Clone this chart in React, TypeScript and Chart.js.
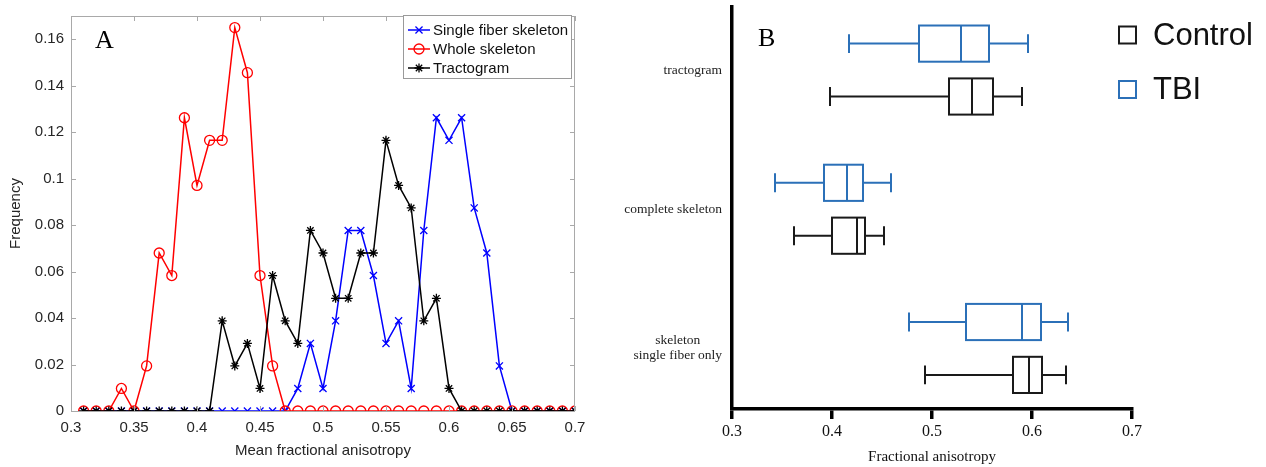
import React, { useEffect, useRef } from 'react';
import { Chart, registerables } from 'chart.js';

Chart.register(...registerables);

// ---------------- Panel A data ----------------
const faBins = [
  0.31, 0.32, 0.33, 0.34, 0.35, 0.36, 0.37, 0.38, 0.39, 0.4,
  0.41, 0.42, 0.43, 0.44, 0.45, 0.46, 0.47, 0.48, 0.49, 0.5,
  0.51, 0.52, 0.53, 0.54, 0.55, 0.56, 0.57, 0.58, 0.59, 0.6,
  0.61, 0.62, 0.63, 0.64, 0.65, 0.66, 0.67, 0.68, 0.69, 0.7,
];
const singleFiberFreq = [
  0, 0, 0, 0, 0, 0, 0, 0, 0, 0,
  0, 0, 0, 0, 0, 0, 0, 0.0097, 0.0291, 0.0097,
  0.0388, 0.0777, 0.0777, 0.0583, 0.0291, 0.0388, 0.0097, 0.0777, 0.1262, 0.1165,
  0.1262, 0.0874, 0.068, 0.0194, 0, 0, 0, 0, 0, 0,
];
const wholeSkeletonFreq = [
  0, 0, 0, 0.0097, 0, 0.0194, 0.068, 0.0583, 0.1262, 0.0971,
  0.1165, 0.1165, 0.165, 0.1456, 0.0583, 0.0194, 0, 0, 0, 0,
  0, 0, 0, 0, 0, 0, 0, 0, 0, 0,
  0, 0, 0, 0, 0, 0, 0, 0, 0, 0,
];
const tractogramFreq = [
  0, 0, 0, 0, 0, 0, 0, 0, 0, 0,
  0, 0.0388, 0.0194, 0.0291, 0.0097, 0.0583, 0.0388, 0.0291, 0.0777, 0.068,
  0.0485, 0.0485, 0.068, 0.068, 0.1165, 0.0971, 0.0874, 0.0388, 0.0485, 0.0097,
  0, 0, 0, 0, 0, 0, 0, 0, 0, 0,
];
const seriesNamesA = ['Single fiber skeleton', 'Whole skeleton', 'Tractogram'];
const xTickValuesA = [0.3, 0.35, 0.4, 0.45, 0.5, 0.55, 0.6, 0.65, 0.7];
const xTickLabelsA = ['0.3', '0.35', '0.4', '0.45', '0.5', '0.55', '0.6', '0.65', '0.7'];
const yTickValuesA = [0, 0.02, 0.04, 0.06, 0.08, 0.1, 0.12, 0.14, 0.16];
const yTickLabelsA = ['0', '0.02', '0.04', '0.06', '0.08', '0.1', '0.12', '0.14', '0.16'];

// ---------------- Panel B data ----------------
const boxCategories = [['tractogram'], ['complete skeleton'], ['skeleton', 'single fiber only']];
const controlMin = [0.398, 0.362, 0.493];
const controlQ1 = [0.517, 0.4, 0.581];
const controlMedian = [0.54, 0.425, 0.597];
const controlQ3 = [0.561, 0.433, 0.61];
const controlMax = [0.59, 0.452, 0.634];
const tbiMin = [0.417, 0.343, 0.477];
const tbiQ1 = [0.487, 0.392, 0.534];
const tbiMedian = [0.529, 0.415, 0.59];
const tbiQ3 = [0.557, 0.431, 0.609];
const tbiMax = [0.596, 0.459, 0.636];
const groupNamesB = ['Control', 'TBI'];
const xTickValuesB = [0.3, 0.4, 0.5, 0.6, 0.7];
const xTickLabelsB = ['0.3', '0.4', '0.5', '0.6', '0.7'];

const BLUE = '#0000ff';
const RED = '#ff0000';
const BLACK = '#000000';
const CONTROL_COLOR = '#1a1a1a';
const TBI_COLOR = '#2b70b8';
const SANS = '"Liberation Sans", Arial, sans-serif';
const SERIF = '"Liberation Serif", "Times New Roman", serif';
const A_WIDTH = 610;
const B_LEFT = 590;

function drawMarker(ctx: CanvasRenderingContext2D, style: string, cx: number, cy: number, r: number) {
  ctx.beginPath();
  if (style === 'circle') {
    ctx.arc(cx, cy, r, 0, Math.PI * 2);
  } else {
    const d = r * Math.SQRT1_2;
    ctx.moveTo(cx - d, cy - d); ctx.lineTo(cx + d, cy + d);
    ctx.moveTo(cx - d, cy + d); ctx.lineTo(cx + d, cy - d);
    if (style === 'star') {
      ctx.moveTo(cx - r, cy); ctx.lineTo(cx + r, cy);
      ctx.moveTo(cx, cy - r); ctx.lineTo(cx, cy + r);
    }
  }
  ctx.stroke();
}

const panelAPlugin = {
  id: 'panelADecor',
  afterDraw(chart: any) {
    const { ctx, chartArea, scales } = chart;
    const { left, top, right, bottom } = chartArea;
    ctx.save();
    // frame
    ctx.strokeStyle = '#a9a9a9';
    ctx.lineWidth = 1;
    ctx.strokeRect(left + 0.5, top + 0.5, right - left - 1, bottom - top);
    ctx.beginPath();
    xTickValuesA.forEach((v) => {
      const px = Math.round(scales.x.getPixelForValue(v)) + 0.5;
      ctx.moveTo(px, bottom); ctx.lineTo(px, bottom - 5);
      ctx.moveTo(px, top); ctx.lineTo(px, top + 5);
    });
    yTickValuesA.forEach((v) => {
      const py = Math.round(scales.y.getPixelForValue(v)) + 0.5;
      ctx.moveTo(left, py); ctx.lineTo(left + 5, py);
      ctx.moveTo(right, py); ctx.lineTo(right - 5, py);
    });
    ctx.stroke();

    // legend
    const lx = 403.5, ly = 15.5, lw = 168, lh = 63;
    ctx.fillStyle = '#ffffff';
    ctx.fillRect(lx, ly, lw, lh);
    ctx.strokeStyle = '#9a9a9a';
    ctx.strokeRect(lx, ly, lw, lh);
    const colors = [BLUE, RED, BLACK];
    const styles = ['crossRot', 'circle', 'star'];
    const radii = [5, 5, 4.5];
    ctx.font = '15px ' + SANS;
    ctx.textBaseline = 'middle';
    ctx.textAlign = 'left';
    seriesNamesA.forEach((name, i) => {
      const cy = 30 + i * 19;
      ctx.strokeStyle = colors[i];
      ctx.lineWidth = 1.5;
      ctx.beginPath();
      ctx.moveTo(408, cy); ctx.lineTo(430, cy);
      ctx.stroke();
      ctx.lineWidth = 1.3;
      drawMarker(ctx, styles[i], 419, cy, radii[i]);
      ctx.fillStyle = '#111111';
      ctx.fillText(name, 433, cy + 1);
    });

    // panel letter
    ctx.fillStyle = '#000000';
    ctx.font = '26px ' + SERIF;
    ctx.textBaseline = 'alphabetic';
    ctx.fillText('A', 95, 48);
    ctx.restore();
  },
};

const BOX_HALF = 0.13;
const CAP_HALF = 0.068;
const GROUP_OFFSET = 0.19;

const panelBPlugin = {
  id: 'panelBDecor',
  afterDatasetsDraw(chart: any) {
    const { ctx, scales } = chart;
    const x = scales.x, y = scales.y;
    ctx.save();
    const drawBox = (center: number, stats: number[], color: string) => {
      const [mn, q1, med, q3, mx] = stats;
      const yc = y.getPixelForValue(center);
      const y1 = y.getPixelForValue(center - BOX_HALF);
      const y2 = y.getPixelForValue(center + BOX_HALF);
      const c1 = y.getPixelForValue(center - CAP_HALF);
      const c2 = y.getPixelForValue(center + CAP_HALF);
      const top = Math.min(y1, y2), h = Math.abs(y2 - y1);
      const pMin = x.getPixelForValue(mn), pQ1 = x.getPixelForValue(q1), pMed = x.getPixelForValue(med);
      const pQ3 = x.getPixelForValue(q3), pMax = x.getPixelForValue(mx);
      ctx.strokeStyle = color;
      ctx.lineWidth = 2;
      ctx.beginPath();
      ctx.moveTo(pMin, yc); ctx.lineTo(pQ1, yc);
      ctx.moveTo(pQ3, yc); ctx.lineTo(pMax, yc);
      ctx.moveTo(pMin, c1); ctx.lineTo(pMin, c2);
      ctx.moveTo(pMax, c1); ctx.lineTo(pMax, c2);
      ctx.moveTo(pMed, top); ctx.lineTo(pMed, top + h);
      ctx.stroke();
      ctx.strokeRect(pQ1, top, pQ3 - pQ1, h);
    };
    boxCategories.forEach((_, i) => {
      drawBox(i - GROUP_OFFSET, [tbiMin[i], tbiQ1[i], tbiMedian[i], tbiQ3[i], tbiMax[i]], TBI_COLOR);
      drawBox(i + GROUP_OFFSET, [controlMin[i], controlQ1[i], controlMedian[i], controlQ3[i], controlMax[i]], CONTROL_COLOR);
    });

    // category labels (right-aligned block, centered lines)
    ctx.fillStyle = '#222222';
    ctx.font = '13.5px ' + SERIF;
    ctx.textBaseline = 'middle';
    ctx.textAlign = 'center';
    const rightEdge = chart.chartArea.left - 10;
    boxCategories.forEach((lines, i) => {
      const yc = y.getPixelForValue(i);
      const w = Math.max(...lines.map((l) => ctx.measureText(l).width));
      const cx = rightEdge - w / 2;
      const lh = 15;
      lines.forEach((l, j) => {
        ctx.fillText(l, cx, yc + (j - (lines.length - 1) / 2) * lh);
      });
    });

    // legend
    const legendColors = [CONTROL_COLOR, TBI_COLOR];
    ctx.textAlign = 'left';
    ctx.font = '31px ' + SANS;
    groupNamesB.forEach((name, i) => {
      const cy = 35 + i * 54.5;
      ctx.strokeStyle = legendColors[i];
      ctx.lineWidth = 2;
      ctx.strokeRect(1119 - B_LEFT, cy - 8.5, 17, 17);
      ctx.fillStyle = '#111111';
      ctx.fillText(name, 1153 - B_LEFT, cy + 1);
    });

    // panel letter
    ctx.fillStyle = '#000000';
    ctx.font = '26px ' + SERIF;
    ctx.textBaseline = 'alphabetic';
    ctx.fillText('B', 758 - B_LEFT, 46);
    ctx.restore();
  },
};

export default function App() {
  const refA = useRef<HTMLCanvasElement>(null);
  const refB = useRef<HTMLCanvasElement>(null);

  useEffect(() => {
    const toXY = (vals: number[]) => faBins.map((x, i) => ({ x, y: vals[i] }));
    const chartA = new Chart(refA.current!, {
      type: 'scatter',
      data: {
        datasets: [
          {
            label: seriesNamesA[0],
            data: toXY(singleFiberFreq),
            showLine: true,
            borderColor: BLUE,
            backgroundColor: 'rgba(0,0,0,0)',
            borderWidth: 1.5,
            pointStyle: 'crossRot',
            pointRadius: 5,
            pointBorderWidth: 1.3,
            pointBorderColor: BLUE,
            order: 3,
          },
          {
            label: seriesNamesA[1],
            data: toXY(wholeSkeletonFreq),
            showLine: true,
            borderColor: RED,
            backgroundColor: 'rgba(0,0,0,0)',
            borderWidth: 1.5,
            pointStyle: 'circle',
            pointRadius: 5,
            pointBorderWidth: 1.3,
            pointBorderColor: RED,
            pointBackgroundColor: 'rgba(0,0,0,0)',
            order: 2,
          },
          {
            label: seriesNamesA[2],
            data: toXY(tractogramFreq),
            showLine: true,
            borderColor: BLACK,
            backgroundColor: 'rgba(0,0,0,0)',
            borderWidth: 1.5,
            pointStyle: 'star',
            pointRadius: 4.5,
            pointBorderWidth: 1.3,
            pointBorderColor: BLACK,
            order: 1,
          },
        ],
      },
      options: {
        animation: false,
        responsive: false,
        devicePixelRatio: 1,
        events: [],
        layout: { padding: { left: 0, right: A_WIDTH - 575, top: 14, bottom: 0 } },
        plugins: { legend: { display: false }, tooltip: { enabled: false } },
        elements: { line: { tension: 0 } },
        scales: {
          x: {
            type: 'linear',
            min: 0.3,
            max: 0.7,
            afterBuildTicks: (s: any) => { s.ticks = xTickValuesA.map((v) => ({ value: v })); },
            afterFit: (s: any) => { s.height = 56; },
            grid: { display: false, drawTicks: false },
            border: { display: false },
            ticks: {
              padding: 8,
              color: '#262626',
              font: { family: SANS, size: 15 },
              maxRotation: 0,
              autoSkip: false,
              callback: (_v: any, i: number) => xTickLabelsA[i],
            },
            title: {
              display: true,
              text: 'Mean fractional anisotropy',
              color: '#262626',
              font: { family: SANS, size: 15 },
              padding: { top: 0, bottom: 7 },
            },
          },
          y: {
            type: 'linear',
            min: 0,
            max: 0.17,
            afterBuildTicks: (s: any) => { s.ticks = yTickValuesA.map((v) => ({ value: v })); },
            afterFit: (s: any) => { s.width = 71; },
            grid: { display: false, drawTicks: false },
            border: { display: false },
            ticks: {
              padding: 7,
              color: '#262626',
              font: { family: SANS, size: 15 },
              autoSkip: false,
              callback: (_v: any, i: number) => yTickLabelsA[i],
            },
            title: {
              display: true,
              text: 'Frequency',
              color: '#262626',
              font: { family: SANS, size: 15 },
              padding: { top: 7, bottom: 0 },
            },
          },
        },
      },
      plugins: [panelAPlugin],
    } as any);

    const chartB = new Chart(refB.current!, {
      type: 'scatter',
      data: {
        datasets: [
          { label: groupNamesB[0], data: [] },
          { label: groupNamesB[1], data: [] },
        ],
      },
      options: {
        animation: false,
        responsive: false,
        devicePixelRatio: 1,
        events: [],
        layout: { padding: { left: 0, right: 134, top: 7, bottom: 0 } },
        plugins: { legend: { display: false }, tooltip: { enabled: false } },
        scales: {
          x: {
            type: 'linear',
            min: 0.3,
            max: 0.7,
            afterBuildTicks: (s: any) => { s.ticks = xTickValuesB.map((v) => ({ value: v })); },
            afterFit: (s: any) => { s.height = 58; },
            grid: {
              display: true,
              drawOnChartArea: false,
              drawTicks: true,
              tickLength: 10,
              lineWidth: 3.5,
              color: '#000000',
            },
            border: { display: true, width: 3.5, color: '#000000' },
            ticks: {
              padding: 3,
              color: '#111111',
              font: { family: SERIF, size: 16 },
              maxRotation: 0,
              autoSkip: false,
              callback: (_v: any, i: number) => xTickLabelsB[i],
            },
            title: {
              display: true,
              text: 'Fractional anisotropy',
              color: '#111111',
              font: { family: SERIF, size: 15 },
              padding: { top: 0, bottom: 1 },
            },
          },
          y: {
            type: 'linear',
            min: -0.453,
            max: 2.435,
            reverse: true,
            afterFit: (s: any) => { s.width = 732 - B_LEFT; },
            grid: { display: false, drawTicks: false },
            border: { display: true, width: 3.5, color: '#000000' },
            ticks: { display: false },
          },
        },
      },
      plugins: [panelBPlugin],
    } as any);

    return () => {
      chartA.destroy();
      chartB.destroy();
    };
  }, []);

  return (
    <div style={{ position: 'fixed', left: 0, top: 0, width: 1266, height: 467, background: '#ffffff' }}>
      <canvas ref={refA} width={A_WIDTH} height={467} style={{ position: 'absolute', left: 0, top: 0 }} />
      <canvas ref={refB} width={1266 - B_LEFT} height={467} style={{ position: 'absolute', left: B_LEFT, top: 0 }} />
    </div>
  );
}
